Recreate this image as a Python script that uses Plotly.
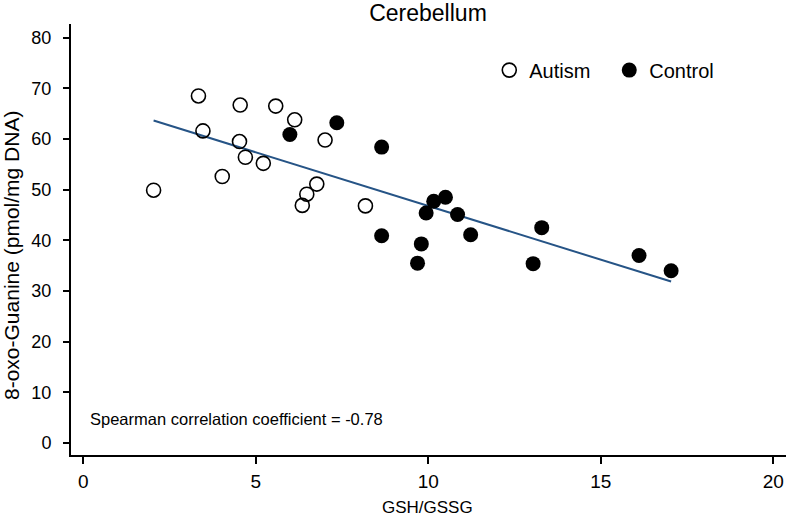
import numpy as np
import plotly.graph_objects as go

# ---- data ----
autism_x = [2.04, 3.34, 3.47, 4.03, 4.55, 4.53, 4.70, 5.22, 5.58, 6.13, 7.01, 6.77, 6.48, 6.35, 8.18]
autism_y = [49.9, 68.5, 61.6, 52.6, 66.7, 59.5, 56.4, 55.2, 66.5, 63.8, 59.8, 51.1, 49.1, 46.9, 46.8]

control_x = [5.99, 7.35, 8.65, 8.65, 9.80, 9.69, 9.94, 10.16, 10.50, 10.85, 11.23, 13.04, 13.29, 16.11, 17.04]
control_y = [60.9, 63.2, 58.4, 40.9, 39.3, 35.5, 45.4, 47.7, 48.5, 45.1, 41.1, 35.4, 42.5, 37.0, 34.0]

x_ticks = [0, 5, 10, 15, 20]
y_ticks = [0, 10, 20, 30, 40, 50, 60, 70, 80]

title_text = "Cerebellum"
x_title = "GSH/GSSG"
y_title = "8-oxo-Guanine (pmol/mg DNA)"
note_text = "Spearman correlation coefficient = -0.78"

# ---- linear fit over all points ----
all_x = np.array(autism_x + control_x)
all_y = np.array(autism_y + control_y)
slope, intercept = np.polyfit(all_x, all_y, 1)
fit_x = np.array([all_x.min(), all_x.max()])
fit_y = slope * fit_x + intercept

FONT = "Liberation Sans, Arial, sans-serif"

fig = go.Figure()
fig.add_trace(go.Scatter(
    x=fit_x, y=fit_y, mode="lines",
    line=dict(color="#265486", width=2),
    showlegend=False, hoverinfo="skip",
))
fig.add_trace(go.Scatter(
    x=autism_x, y=autism_y, mode="markers", name="Autism",
    marker=dict(symbol="circle-open", size=14, color="black", line=dict(width=1.6, color="black")),
))
fig.add_trace(go.Scatter(
    x=control_x, y=control_y, mode="markers", name="Control",
    marker=dict(symbol="circle", size=15, color="black", line=dict(width=0)),
))

fig.update_layout(
    width=789, height=516,
    margin=dict(l=71, r=3, t=24, b=61),
    paper_bgcolor="white", plot_bgcolor="white",
    font=dict(family=FONT, color="black"),
    title=dict(text=title_text, x=428 / 789, xanchor="center", y=1 - 13 / 516, yanchor="middle",
               font=dict(size=23, family=FONT, color="black")),
    showlegend=True,
    legend=dict(orientation="h", x=0.585, xanchor="left", y=0.893, yanchor="middle",
                font=dict(size=20, family=FONT, color="black"),
                entrywidth=75, entrywidthmode="pixels",
                bgcolor="rgba(0,0,0,0)", borderwidth=0),
)

fig.update_xaxes(
    range=[-0.354, 20.37], tickmode="array", tickvals=x_ticks,
    ticktext=[str(v) for v in x_ticks],
    showline=True, linecolor="black", linewidth=2, mirror=False,
    ticks="outside", ticklen=7, tickwidth=2, tickcolor="black",
    showgrid=False, zeroline=False,
    tickfont=dict(size=19, family=FONT, color="black"),
    ticklabelstandoff=1,
)
fig.update_yaxes(
    range=[-2.37, 82.7], tickmode="array", tickvals=y_ticks,
    ticktext=[str(v) for v in y_ticks],
    showline=True, linecolor="black", linewidth=2, mirror=False,
    ticks="outside", ticklen=6, tickwidth=2, tickcolor="black",
    showgrid=False, zeroline=False,
    tickfont=dict(size=18, family=FONT, color="black"),
    ticklabelstandoff=8,
)

fig.add_annotation(text=y_title, xref="paper", yref="paper",
                   x=(11 - 71) / 715, y=(455 - 256) / 431, xanchor="center", yanchor="middle",
                   textangle=-90, showarrow=False,
                   font=dict(size=21, family=FONT, color="black"))
fig.add_annotation(text=x_title, xref="paper", yref="paper",
                   x=(427.5 - 71) / 715, y=(455 - 507) / 431, xanchor="center", yanchor="middle",
                   showarrow=False, font=dict(size=17, family=FONT, color="black"))
fig.add_annotation(text=note_text, xref="paper", yref="paper",
                   x=(88 - 71) / 715, y=(455 - 419) / 431, xanchor="left", yanchor="middle",
                   showarrow=False, font=dict(size=16.5, family=FONT, color="black"))

fig.write_html(
    "out.html",
    config={"displayModeBar": False},
    post_script="document.body.style.margin='0';document.body.style.padding='0';"
                "document.documentElement.style.overflow='hidden';",
)
